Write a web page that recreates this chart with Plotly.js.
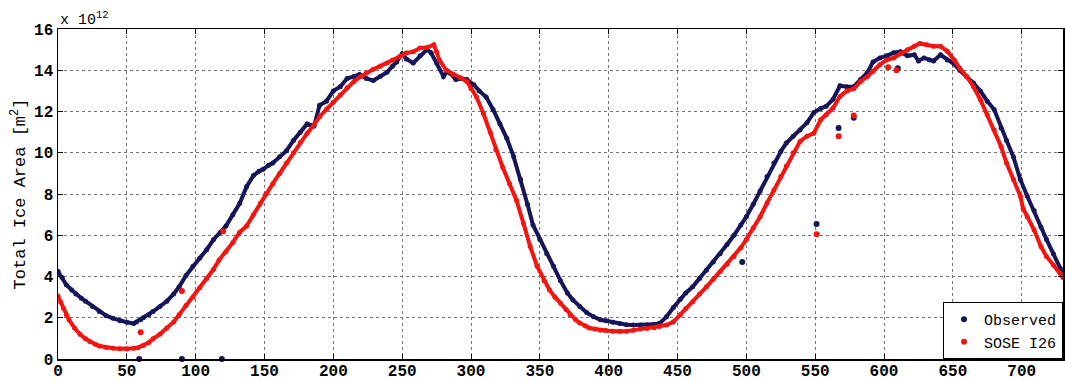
<!DOCTYPE html>
<html>
<head>
<meta charset="utf-8">
<script src="https://cdn.plot.ly/plotly-3.0.1.min.js"></script>
<style>html,body{margin:0;padding:0;background:#fff;}#chart{width:1065px;height:381px;}</style>
</head>
<body>
<div id="chart"></div>
<script>
// Observed total ice area (x 10^12 m^2)
const obsDays = [0,3,6,10,13,17,20,25,30,35,40,45,50,55,57,60,62,66,69,74,79,84,88,93,98,103,108,113,118,122,127,132,137,142,146,149,153,156,161,166,171,176,181,186,190,195,200,205,210,215,219,224,229,234,239,243,246,250,253,258,263,268,271,275,280,283,285,289,293,297,302,306,311,316,321,326,331,336,341,345,350,355,360,365,370,374,379,384,389,394,398,403,408,413,418,423,428,433,437,442,447,452,456,461,466,471,476,481,486,491,496,500,505,510,515,520,525,529,534,539,544,549,554,558,563,568,573,578,583,588,592,597,602,607,612,617,622,625,629,633,636,641,646,651,655,660,665,670,675,680,685,689,694,699,704,709,714,718,723,728,730];
const obsVals = [4.25,3.95,3.6,3.35,3.15,2.95,2.8,2.55,2.3,2.1,1.97,1.85,1.78,1.72,1.8,1.9,2.0,2.15,2.3,2.55,2.8,3.15,3.5,4.05,4.5,4.9,5.3,5.8,6.15,6.45,7.0,7.55,8.35,8.9,9.1,9.2,9.4,9.5,9.8,10.1,10.6,11.0,11.4,11.3,12.3,12.5,13.0,13.2,13.6,13.7,13.8,13.6,13.5,13.7,13.9,14.2,14.4,14.8,14.55,14.35,14.7,15.0,14.85,14.35,13.7,13.95,13.85,13.55,13.6,13.55,13.3,13.0,12.7,12.1,11.4,10.7,9.8,8.7,7.5,6.5,5.8,5.1,4.5,3.8,3.2,2.86,2.55,2.25,2.05,1.9,1.85,1.78,1.72,1.66,1.65,1.65,1.65,1.68,1.73,2.05,2.5,2.9,3.2,3.5,3.9,4.3,4.7,5.1,5.55,6.0,6.5,6.9,7.5,8.15,8.85,9.5,10.06,10.47,10.8,11.1,11.45,11.95,12.15,12.25,12.6,13.25,13.2,13.2,13.55,13.9,14.4,14.6,14.7,14.85,14.9,14.7,14.75,14.45,14.6,14.5,14.45,14.75,14.5,14.3,14.0,13.7,13.38,13.0,12.5,12.1,11.2,10.6,9.8,8.7,7.9,7.2,6.4,5.8,5.1,4.4,4.0];
const obsOutDays = [59,90,119,497,551,567,578,610];
const obsOutVals = [0,0,0,4.7,6.55,11.2,11.7,14.1];

// SOSE I26 total ice area (x 10^12 m^2)
const soseDays = [0,2,4,6,8,12,16,20,23,27,30,35,40,45,50,55,58,62,66,69,74,79,84,88,93,98,103,108,113,117,122,127,132,137,142,147,151,156,161,166,171,176,181,186,190,195,200,205,210,215,220,224,229,234,239,243,248,253,258,263,268,273,275,277,282,287,292,297,300,304,309,314,318,323,328,333,338,343,348,353,357,361,365,369,372,376,379,383,386,390,394,398,403,408,413,418,423,428,433,437,442,447,452,456,461,466,471,476,481,486,491,496,500,505,510,515,520,525,529,534,539,544,549,554,558,563,568,573,578,583,588,592,597,602,607,612,617,622,626,631,636,641,646,651,655,660,665,670,675,680,685,689,694,699,701,704,709,714,718,723,728,730];
const soseVals = [3.05,2.75,2.45,2.15,1.9,1.5,1.2,0.98,0.85,0.72,0.63,0.56,0.52,0.5,0.49,0.52,0.55,0.65,0.8,0.98,1.2,1.5,1.8,2.15,2.6,3.0,3.45,3.9,4.35,4.8,5.2,5.65,6.15,6.45,7.0,7.55,8.0,8.5,9.0,9.5,10.0,10.5,10.95,11.36,11.75,12.1,12.45,12.8,13.15,13.46,13.7,13.87,14.05,14.2,14.35,14.5,14.65,14.84,14.9,15.08,15.1,15.24,14.9,14.5,14.0,13.8,13.65,13.46,13.1,12.7,11.9,11.0,10.15,9.3,8.5,7.7,6.6,5.45,4.5,3.8,3.35,3.0,2.7,2.4,2.14,1.9,1.75,1.6,1.5,1.45,1.4,1.38,1.35,1.33,1.35,1.4,1.45,1.48,1.52,1.57,1.65,1.8,2.14,2.45,2.78,3.15,3.5,3.87,4.24,4.6,4.97,5.4,5.8,6.35,6.9,7.56,8.2,8.85,9.34,10.0,10.55,10.8,10.95,11.6,11.84,12.17,12.73,13.0,13.1,13.46,13.7,13.95,14.27,14.5,14.6,14.8,15.0,15.16,15.3,15.24,15.16,15.16,14.92,14.5,14.1,13.7,13.2,12.57,11.84,11.1,10.3,9.5,8.7,7.9,7.3,6.9,6.26,5.45,4.97,4.56,4.16,3.95];
const soseOutDays = [60,90,120,551,567,578,603,609];
const soseOutVals = [1.3,3.3,6.2,6.05,10.8,11.8,14.15,14.0];

const xTicks = [0,50,100,150,200,250,300,350,400,450,500,550,600,650,700];
const yTicks = [0,2,4,6,8,10,12,14,16];
const seriesNames = ['Observed','SOSE I26'];

const navy = '#15155a';
const red = '#f5140f';
const mono = 'Liberation Mono, Courier New, monospace';

const traces = [
  {x: obsDays, y: obsVals, type: 'scatter', mode: 'lines+markers', line: {color: navy, width: 4}, marker: {color: navy, size: 5}, showlegend: false, hoverinfo: 'skip'},
  {x: soseDays, y: soseVals, type: 'scatter', mode: 'lines+markers', line: {color: red, width: 4}, marker: {color: red, size: 5}, showlegend: false, hoverinfo: 'skip'},
  {x: obsOutDays, y: obsOutVals, type: 'scatter', mode: 'markers', name: seriesNames[0], marker: {color: navy, size: 6}, cliponaxis: false},
  {x: soseOutDays, y: soseOutVals, type: 'scatter', mode: 'markers', name: seriesNames[1], marker: {color: red, size: 6}, cliponaxis: false}
];

const axisCommon = {
  showline: true, linecolor: '#000', linewidth: 1.5, mirror: 'ticks',
  ticks: 'inside', ticklen: 5, tickcolor: '#000',
  showgrid: true, gridcolor: '#777', griddash: 'dot', gridwidth: 1,
  zeroline: false,
  tickfont: {family: mono, size: 16, color: '#000', weight: 'bold'}
};

const layout = {
  width: 1065, height: 381,
  margin: {l: 58, r: 2, t: 29, b: 22},
  paper_bgcolor: '#fff', plot_bgcolor: '#fff',
  xaxis: Object.assign({}, axisCommon, {range: [0, 730], tickvals: xTicks, ticktext: xTicks.map(String), ticklabelstandoff: -4}),
  yaxis: Object.assign({}, axisCommon, {range: [0, 16], tickvals: yTicks, ticktext: yTicks.map(String),
    title: {text: 'Total Ice Area [m<sup>2</sup>]', font: {family: mono, size: 17, color: '#000'}, standoff: 4}}),
  legend: {x: 1, y: 0, xanchor: 'right', yanchor: 'bottom', bgcolor: '#fff', bordercolor: '#000', borderwidth: 1,
    font: {family: mono, size: 15, color: '#000'}, itemwidth: 30, tracegroupgap: 0},
  annotations: [{xref: 'paper', yref: 'paper', x: 0, y: 1, xanchor: 'left', yanchor: 'bottom', yshift: -2,
    text: 'x 10<sup>12</sup>', showarrow: false, font: {family: mono, size: 15, color: '#000'}}]
};

Plotly.newPlot('chart', traces, layout, {displayModeBar: false, staticPlot: true});
</script>
</body>
</html>
